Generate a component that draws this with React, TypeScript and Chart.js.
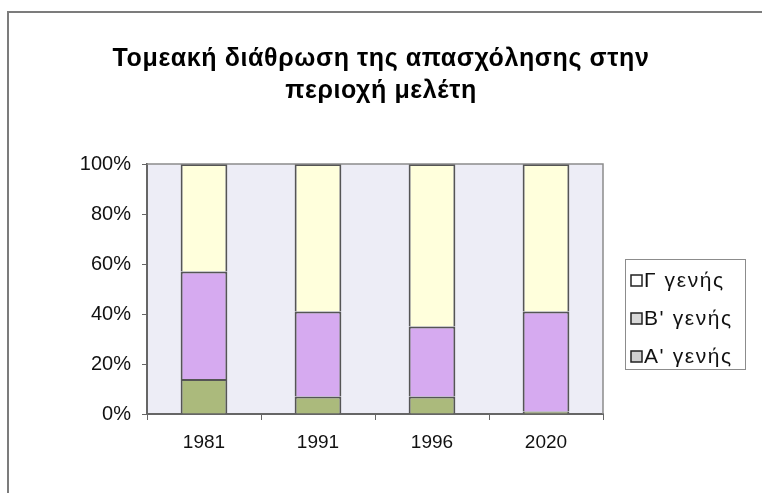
import React, { useEffect, useRef } from "react";
import { Chart, registerables } from "chart.js";

Chart.register(...registerables);

const categories = ["1981", "1991", "1996", "2020"];
const seriesA = [14, 7, 7, 1]; // Α' γενής
const seriesB = [43, 34, 28, 40]; // Β' γενής
const seriesC = [43, 59, 65, 59]; // Γ' γενής
const seriesLabels = ["A' γενής", "B' γενής", "Γ γενής"];
const yTicks = [0, 20, 40, 60, 80, 100];
const titleLines = ["Τομεακή διάθρωση της απασχόλησης στην", "περιοχή μελέτη"];

const FONT = "'Liberation Sans', Arial, sans-serif";

export default function App() {
  const ref = useRef<HTMLCanvasElement | null>(null);

  useEffect(() => {
    if (!ref.current) return;
    const framePlugin = {
      id: "frame",
      afterLayout(chart: any) {
        const tb = chart.titleBlock;
        if (tb && !tb.__wrapped) {
          const orig = tb.draw.bind(tb);
          tb.draw = (...args: any[]) => {
            const c = chart.ctx;
            c.save();
            c.letterSpacing = "0.6px";
            orig(...args);
            c.restore();
          };
          tb.__wrapped = true;
        }
      },
      beforeDraw(chart: any) {
        const { ctx, chartArea: a } = chart;
        ctx.save();
        ctx.fillStyle = "#ffffff";
        ctx.fillRect(0, 0, chart.width, chart.height);
        ctx.strokeStyle = "#7c7c7c";
        ctx.lineWidth = 2;
        ctx.beginPath();
        ctx.moveTo(8, 500);
        ctx.lineTo(8, 12);
        ctx.lineTo(770, 12);
        ctx.stroke();
        ctx.fillStyle = "#ededf6";
        ctx.fillRect(a.left, a.top, a.right - a.left, a.bottom - a.top);
        ctx.restore();
      },
      afterDraw(chart: any) {
        const { ctx, chartArea: a } = chart;
        ctx.save();
        ctx.strokeStyle = "#8c8c8c";
        ctx.lineWidth = 1.5;
        ctx.beginPath();
        ctx.moveTo(a.left, a.top);
        ctx.lineTo(a.right, a.top);
        ctx.lineTo(a.right, a.bottom);
        ctx.stroke();
        // legend (series listed top to bottom in reverse stacking order)
        const lx = 625, ly = 259, lw = 120, lh = 110;
        ctx.strokeStyle = "#8c8c8c";
        ctx.lineWidth = 1;
        ctx.strokeRect(lx + 0.5, ly + 0.5, lw, lh);
        ctx.font = `21px ${FONT}`;
        (ctx as any).letterSpacing = "1.6px";
        ctx.textBaseline = "middle";
        ctx.textAlign = "left";
        const fills = ["#ffffff", "#d8d8d8", "#d0d0d0"];
        const ds = chart.data.datasets.slice().reverse();
        ds.forEach((d: any, i: number) => {
          const cy = 281 + i * 38;
          ctx.fillStyle = fills[i];
          ctx.fillRect(631, cy - 6, 11, 11);
          ctx.strokeStyle = "#222";
          ctx.lineWidth = 1.5;
          ctx.strokeRect(631, cy - 6, 11, 11);
          ctx.fillStyle = "#111";
          ctx.fillText(d.label, 644, cy);
        });
        ctx.restore();
      },
    };

    const mk = (label: string, data: number[], color: string) => ({
      label,
      data,
      backgroundColor: color,
      borderColor: "#555555",
      borderWidth: 2,
      barPercentage: 0.41,
      categoryPercentage: 1,
    });

    const chart = new Chart(ref.current, {
      type: "bar",
      data: {
        labels: categories,
        datasets: [
          mk(seriesLabels[0], seriesA, "#abba7c"),
          mk(seriesLabels[1], seriesB, "#d6aaf0"),
          mk(seriesLabels[2], seriesC, "#ffffdc"),
        ],
      },
      options: {
        animation: false,
        responsive: false,
        layout: { padding: 0 },
        plugins: {
          legend: { display: false },
          tooltip: { enabled: false },
          title: {
            display: true,
            text: titleLines,
            color: "#000",
            font: { family: FONT, size: 25, weight: "bold", lineHeight: 1.28 },
            padding: { top: 43, bottom: 57 },
          },
        },
        scales: {
          x: {
            stacked: true,
            grid: { offset: true, drawOnChartArea: false, drawTicks: true, tickLength: 6, color: "#666" },
            border: { display: true, color: "#666", width: 2 },
            ticks: { color: "#111", font: { family: FONT, size: 19 }, padding: 11 },
            afterFit: (s: any) => { s.height = 79; },
          },
          y: {
            stacked: true,
            min: 0,
            max: 100,
            afterBuildTicks: (s: any) => { s.ticks = yTicks.map((v) => ({ value: v })); },
            grid: { drawOnChartArea: false, drawTicks: true, tickLength: 5, color: "#666" },
            border: { display: true, color: "#666", width: 2 },
            ticks: { color: "#111", font: { family: FONT, size: 20 }, padding: 11, callback: (v: any) => v + "%" },
            afterFit: (s: any) => { s.width = 147; },
          },
          legendSpace: {
            position: "right",
            display: true,
            min: 0,
            max: 1,
            grid: { display: false, drawTicks: false },
            border: { display: false },
            ticks: { display: false },
            afterFit: (s: any) => { s.width = 159; },
          },
        },
      },
      plugins: [framePlugin],
    });
    return () => chart.destroy();
  }, []);

  return (
    <div style={{ position: "fixed", left: 0, top: 0, width: 762, height: 493 }}>
      <canvas ref={ref} width={762} height={493} style={{ width: 762, height: 493, display: "block" }} />
    </div>
  );
}
